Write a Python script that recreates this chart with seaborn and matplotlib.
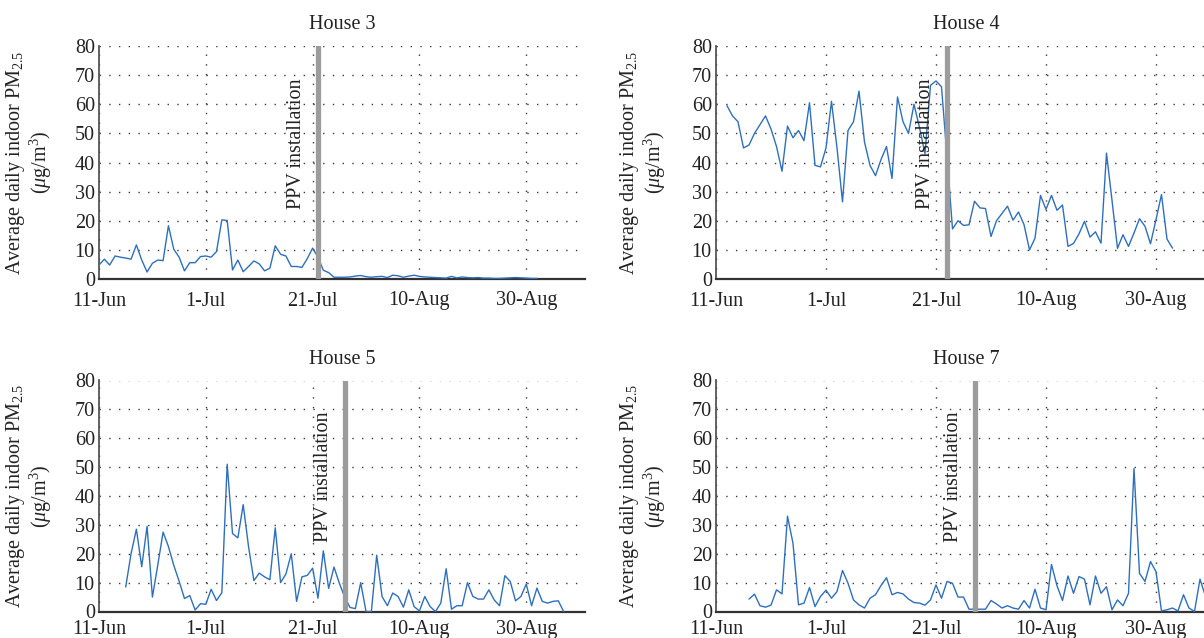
import matplotlib
matplotlib.use("Agg")
import matplotlib.pyplot as plt
import seaborn as sns
import pandas as pd

# ---------------- data ----------------
house3_start = "2015-06-11"
house3_vals = [4.8, 6.8, 4.8, 7.9, 7.5, 7.2, 6.8, 11.7, 6.5, 2.4,
               5.4, 6.5, 6.3, 18.3, 10.2, 7.5, 2.8, 5.6, 5.6, 7.7,
               7.9, 7.5, 9.4, 20.3, 20.1, 3.1, 6.5, 2.5, 4.3, 6.2,
               5.2, 2.8, 3.7, 11.4, 8.5, 7.9, 4.3, 4.3, 4.0, 7.0,
               10.6, 7.5, 3.0, 2.2, 0.6, 0.6, 0.6, 0.7, 1.0, 1.2,
               0.8, 0.6, 0.8, 0.9, 0.5, 1.3, 1.1, 0.6, 1.0, 1.3,
               0.9, 0.7, 0.6, 0.5, 0.4, 0.3, 0.9, 0.4, 0.7, 0.5,
               0.4, 0.5, 0.3, 0.3, 0.2, 0.2, 0.3, 0.4, 0.5, 0.4,
               0.3, 0.2, 0.2]
house3_ppv = "2015-07-22"

house4_start = "2015-06-13"
house4_vals = [59.5, 56, 54, 45, 46, 50, 53, 56, 51.5, 45.5,
               37, 52.5, 48.5, 51, 47.5, 60.5, 39, 38.5, 45, 61,
               45, 26.5, 51, 54, 64.5, 47, 39, 35.5, 41, 45.5,
               34.5, 62.5, 54, 50, 60, 52, 43, 66.5, 68, 66,
               42, 17.2, 20, 18.4, 18.6, 26.7, 24.4, 24.2, 14.6, 20,
               22.5, 25, 20.2, 23, 18.7, 10, 14, 28.7, 23.9, 28.7,
               23.6, 25.4, 11.2, 12.2, 15.5, 19.8, 14.4, 16.2, 12.3, 43.2,
               27, 10.5, 15.2, 11.2, 15.8, 20.7, 18.1, 12.1, 20.4, 29,
               13.7, 10.6]
house4_ppv = "2015-07-23"

house5_start = "2015-06-16"
house5_vals = [8.5, 20, 28.5, 15.5, 29.5, 5, 16, 27.5, 22.5, 16,
               10.5, 4.5, 5.5, 0.5, 2.7, 2.5, 7.7, 3.8, 6.5, 51,
               27, 25.5, 37, 22.5, 10.7, 13.3, 12, 11, 29, 10,
               13, 20, 3.5, 12, 12.5, 15, 4.6, 21, 8, 15.4,
               9.8, 5, 1.4, 1, 10, 0, 0, 19.5, 5.2, 2,
               6.4, 5.2, 1.5, 7.5, 1.7, 0.2, 5.2, 1.7, 0, 2.9,
               14.8, 0.8, 2, 2, 10, 5.2, 4.3, 4.3, 7.5, 4,
               2, 12.4, 10.4, 3.7, 5.2, 9.5, 2, 8.1, 3.5, 2.9,
               3.5, 3.7, 0]
house5_ppv = "2015-07-27"

house7_start = "2015-06-17"
house7_vals = [4.3, 6, 2, 1.5, 2.2, 7.5, 6.1, 33, 23.6, 2.3,
               2.9, 8.3, 1.7, 5.2, 7.4, 4.6, 6.9, 14.2, 9.8, 4,
               2.3, 1.2, 4.6, 5.8, 9, 11.7, 5.8, 6.6, 6.1, 4.3,
               3.1, 2.9, 2.2, 4, 9.2, 4.6, 10.4, 9.8, 5, 5,
               0.8, 0.8, 0.8, 0.8, 3.8, 2.6, 1.2, 2, 1.2, 0.8,
               3.8, 1.2, 7.7, 1.2, 0.6, 16.3, 8.9, 3.8, 12.3, 6.3,
               12.1, 11.2, 2.3, 12.3, 6.3, 8.6, 0.6, 4, 2, 6.3,
               49.5, 13.2, 10.4, 17.3, 13.8, 0.2, 0.6, 1.2, 0.2, 5.8,
               1.2, 0, 11.2, 5.2]
house7_ppv = "2015-07-28"

titles = ["House 3", "House 4", "House 5", "House 7"]
tick_dates = ["2015-06-11", "2015-07-01", "2015-07-21", "2015-08-10", "2015-08-30"]
tick_labels = ["11-Jun", "1-Jul", "21-Jul", "10-Aug", "30-Aug"]
x_range = ("2015-06-11", "2015-09-10")
y_ticks = [0, 10, 20, 30, 40, 50, 60, 70, 80]
ylabel = "Average daily indoor PM$_{2.5}$\n($\\mu$g/m$^3$)"
ppv_text = "PPV installation"

# ---------------- style ----------------
sns.set_theme(style="white")
plt.rcParams["font.family"] = ["Liberation Serif", "DejaVu Serif"]
plt.rcParams["mathtext.fontset"] = "custom"
plt.rcParams["mathtext.rm"] = "Liberation Serif"
plt.rcParams["mathtext.it"] = "Liberation Serif:italic"
plt.rcParams["mathtext.bf"] = "Liberation Serif:bold"

FS = 14.5
TXT = "#222222"
W, H = 1204, 638
fig = plt.figure(figsize=(W / 100, H / 100), dpi=100)
fig.patch.set_facecolor("white")

# axes pixel boxes: (left, top, width, height)
boxes = [(99, 46, 486, 233), (716, 46, 500.5, 233),
         (99, 380.5, 486, 231), (716, 380.5, 500.5, 231)]
series = [(house3_start, house3_vals, house3_ppv),
          (house4_start, house4_vals, house4_ppv),
          (house5_start, house5_vals, house5_ppv),
          (house7_start, house7_vals, house7_ppv)]

line_color = "#2e6fbd"
for i, ((l, t, w, h), (start, vals, ppv), title) in enumerate(zip(boxes, series, titles)):
    ax = fig.add_axes([l / W, 1 - (t + h) / H, w / W, h / H])
    df = pd.DataFrame({"date": pd.date_range(start, periods=len(vals), freq="D"),
                       "pm": vals})
    sns.lineplot(data=df, x="date", y="pm", ax=ax, color=line_color,
                 linewidth=1.0, zorder=3)
    ax.axvline(pd.Timestamp(ppv), color="#9c9c9c", lw=3.8, zorder=4)
    ax.annotate(ppv_text, xy=(pd.Timestamp(ppv), 24), xytext=(-12, 0),
                textcoords="offset pixels", rotation=90, ha="right", va="bottom",
                fontsize=FS, color=TXT, zorder=5)

    ax.set_xlim(pd.Timestamp(x_range[0]), pd.Timestamp(x_range[1]))
    ax.set_ylim(0, 80)
    ax.set_yticks(y_ticks)
    ax.set_xticks([pd.Timestamp(d) for d in tick_dates])
    ax.set_xticklabels(tick_labels)
    ax.tick_params(axis="both", length=0, labelsize=FS, colors=TXT)
    ax.tick_params(axis="y", pad=3)
    ax.tick_params(axis="x", pad=9 if i < 2 else 6)

    ax.grid(True, linestyle=(0, (1, 6)), color="#3a3a3a", linewidth=1.0)
    ax.set_axisbelow(True)
    for s in ["top", "right"]:
        ax.spines[s].set_visible(False)
    ax.spines["left"].set_color("#555555")
    ax.spines["left"].set_linewidth(1.3)
    ax.spines["bottom"].set_color("#333333")
    ax.spines["bottom"].set_linewidth(1.6)

    ax.set_title(title, fontsize=FS, pad=12, color=TXT)
    ax.set_xlabel("")
    ax.set_ylabel(ylabel, fontsize=FS, linespacing=1.05, color=TXT)
    ax.yaxis.set_label_coords(-0.092 if w < 490 else -0.096, 0.5)

fig.savefig("out.png", dpi=100)
